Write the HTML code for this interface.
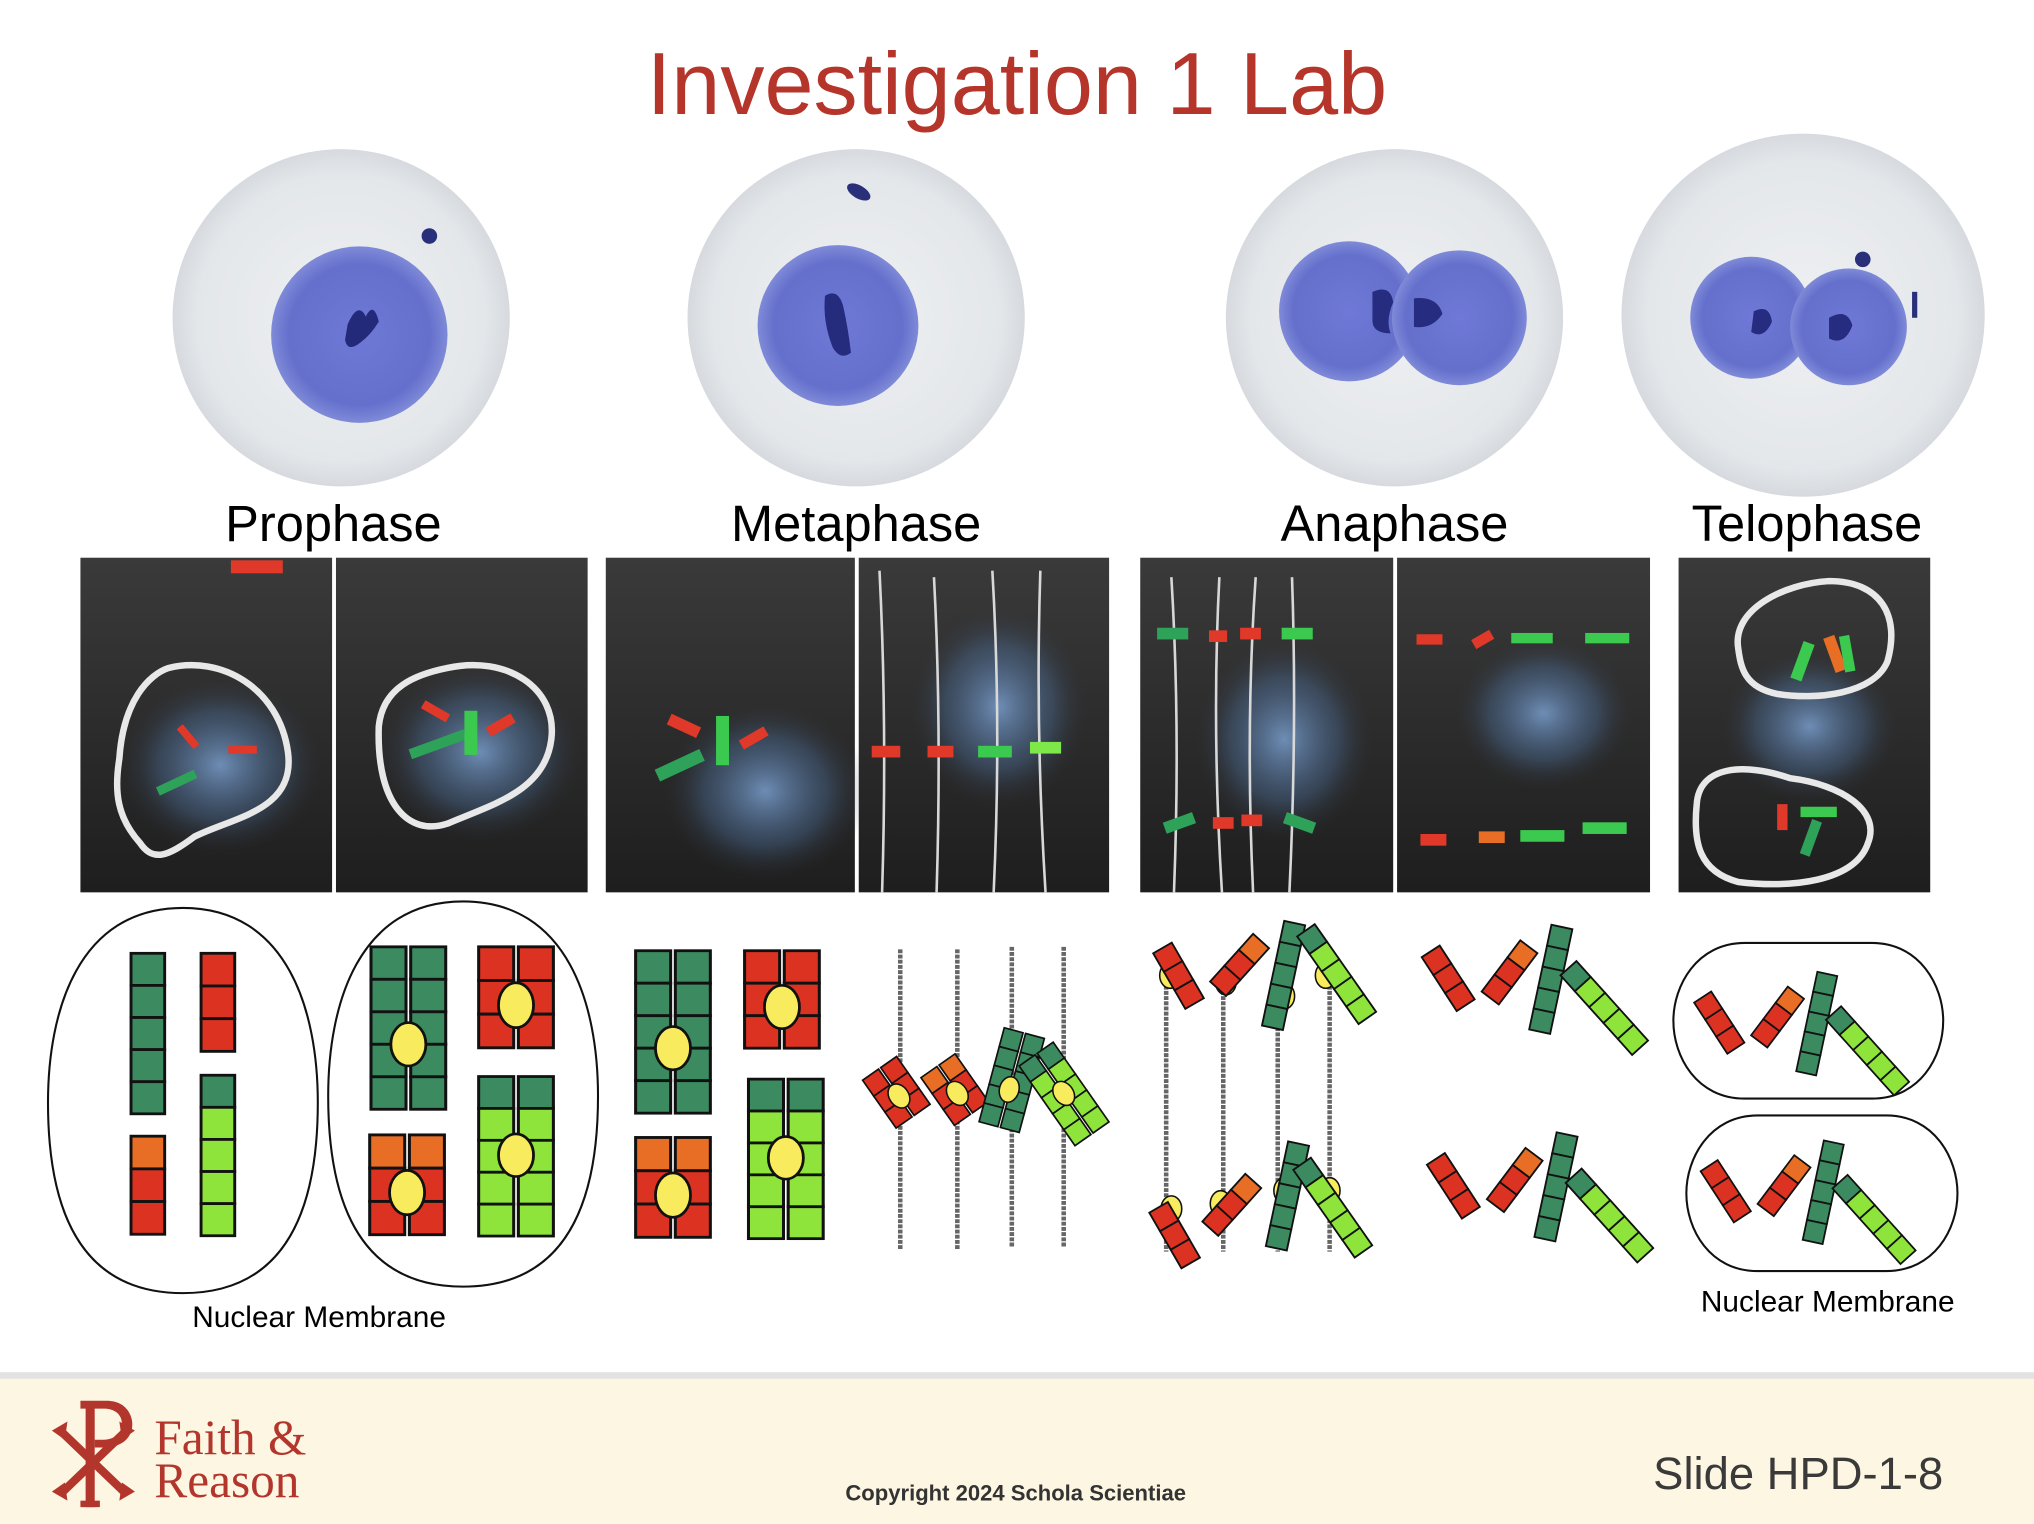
<!DOCTYPE html>
<html><head><meta charset="utf-8"><style>
html,body{margin:0;padding:0;background:#fff;}
svg{display:block;}
</style></head><body>
<svg width="2034" height="1524" viewBox="0 0 1568 1175" preserveAspectRatio="none" xmlns="http://www.w3.org/2000/svg" font-family="Liberation Sans, sans-serif">
<defs>
  <radialGradient id="cell" cx="50%" cy="50%" r="50%">
    <stop offset="0" stop-color="#eef0f2"/><stop offset="0.85" stop-color="#e4e7ea"/><stop offset="1" stop-color="#d6dade"/>
  </radialGradient>
  <radialGradient id="nuc" cx="50%" cy="50%" r="50%">
    <stop offset="0" stop-color="#6f78d6"/><stop offset="0.8" stop-color="#6470cc"/><stop offset="1" stop-color="#7f8ad8"/>
  </radialGradient>
  <radialGradient id="glow" cx="50%" cy="50%" r="50%">
    <stop offset="0" stop-color="#7fa6d8" stop-opacity="0.8"/><stop offset="0.6" stop-color="#4d6f9a" stop-opacity="0.4"/><stop offset="1" stop-color="#2a2a2c" stop-opacity="0"/>
  </radialGradient>
  <radialGradient id="lamp" cx="50%" cy="50%" r="50%">
    <stop offset="0" stop-color="#8a8a86" stop-opacity="0.7"/><stop offset="1" stop-color="#2a2a2c" stop-opacity="0"/>
  </radialGradient>
  <linearGradient id="ph" x1="0" y1="0" x2="0" y2="1">
    <stop offset="0" stop-color="#3a3a3a"/><stop offset="1" stop-color="#1e1e1e"/>
  </linearGradient>
  <g id="sR3" stroke="#111" stroke-width="1.3"><rect x="0" y="0" width="15" height="15" fill="#dc3222"/><rect x="0" y="15" width="15" height="15" fill="#dc3222"/><rect x="0" y="30" width="15" height="15" fill="#dc3222"/></g>
  <g id="sO1R2" stroke="#111" stroke-width="1.3"><rect x="0" y="0" width="15" height="15" fill="#e86e26"/><rect x="0" y="15" width="15" height="15" fill="#dc3222"/><rect x="0" y="30" width="15" height="15" fill="#dc3222"/></g>
  <g id="sG5" stroke="#111" stroke-width="1.3"><rect x="0" y="0" width="15" height="15" fill="#3b8a60"/><rect x="0" y="15" width="15" height="15" fill="#3b8a60"/><rect x="0" y="30" width="15" height="15" fill="#3b8a60"/><rect x="0" y="45" width="15" height="15" fill="#3b8a60"/><rect x="0" y="60" width="15" height="15" fill="#3b8a60"/></g>
  <g id="sG1L4" stroke="#111" stroke-width="1.3"><rect x="0" y="0" width="15" height="15" fill="#3b8a60"/><rect x="0" y="15" width="15" height="15" fill="#8ee43a"/><rect x="0" y="30" width="15" height="15" fill="#8ee43a"/><rect x="0" y="45" width="15" height="15" fill="#8ee43a"/><rect x="0" y="60" width="15" height="15" fill="#8ee43a"/></g>
  <g id="dR3"><use href="#sR3"/><use href="#sR3" x="17"/><ellipse cx="16" cy="26" rx="7.5" ry="10" fill="#f8ec5e" stroke="#111" stroke-width="1.2"/></g>
  <g id="dO1R2"><use href="#sO1R2"/><use href="#sO1R2" x="17"/><ellipse cx="16" cy="26" rx="7.5" ry="10" fill="#f8ec5e" stroke="#111" stroke-width="1.2"/></g>
  <g id="dG5"><use href="#sG5"/><use href="#sG5" x="17"/><ellipse cx="16" cy="45" rx="7.5" ry="10" fill="#f8ec5e" stroke="#111" stroke-width="1.2"/></g>
  <g id="dG1L4"><use href="#sG1L4"/><use href="#sG1L4" x="17"/><ellipse cx="16" cy="37" rx="7.5" ry="10" fill="#f8ec5e" stroke="#111" stroke-width="1.2"/></g>
  <g id="cen"><ellipse cx="0" cy="0" rx="8" ry="10" fill="#f8ec5e" stroke="#111" stroke-width="1.2"/></g>
  <g id="set">
    <use href="#sR3" transform="translate(1096,738) rotate(-33) scale(1.1)"/>
    <use href="#sO1R2" transform="translate(1172,725) rotate(37) scale(1.1)"/>
    <use href="#sG5" transform="translate(1196,713) rotate(12) scale(1.1)"/>
    <use href="#sG1L4" transform="translate(1203,752) rotate(-42) scale(1.1)"/>
  </g>
</defs>

<rect width="1568" height="1175" fill="#fff"/>

<text x="784" y="88" font-size="68" fill="#b5352b" text-anchor="middle">Investigation 1 Lab</text>

<circle cx="263" cy="245" r="130" fill="url(#cell)"/>
<circle cx="277" cy="258" r="68" fill="url(#nuc)"/>
<path d="M268 250 q8 -18 14 -6 q6 -12 10 4 q-6 10 -14 16 q-10 8 -12 -2z" fill="#242a7a"/>
<circle cx="331" cy="182" r="6" fill="#2a2f7a"/>

<circle cx="660" cy="245" r="130" fill="url(#cell)"/>
<circle cx="646" cy="251" r="62" fill="url(#nuc)"/>
<path d="M636 228 q10 -6 14 8 q4 18 6 36 q-8 6 -14 -4 q-8 -20 -6 -40z" fill="#252b7d"/>
<ellipse cx="662" cy="148" rx="10" ry="5" fill="#2a2f7a" transform="rotate(30 662 148)"/>

<circle cx="1075" cy="245" r="130" fill="url(#cell)"/>
<circle cx="1040" cy="240" r="54" fill="url(#nuc)"/>
<circle cx="1125" cy="245" r="52" fill="url(#nuc)"/>
<path d="M1058 225 q14 -6 16 8 q-6 14 -2 24 q-14 0 -14 -10z M1090 230 q18 -2 22 12 q-8 12 -22 10z" fill="#262c80"/>

<circle cx="1390" cy="243" r="140" fill="url(#cell)"/>
<circle cx="1350" cy="245" r="47" fill="url(#nuc)"/>
<circle cx="1425" cy="252" r="45" fill="url(#nuc)"/>
<path d="M1352 240 q12 -6 14 8 q-6 14 -16 8z M1410 245 q14 -8 18 6 q-6 16 -18 10z" fill="#262c80"/>
<circle cx="1436" cy="200" r="6" fill="#2a2f7a"/>
<rect x="1474" y="225" width="4" height="20" fill="#2a2f7a"/>

<g font-size="39" fill="#000" text-anchor="middle">
<text x="257" y="417">Prophase</text>
<text x="660" y="417">Metaphase</text>
<text x="1075" y="417">Anaphase</text>
<text x="1393" y="417">Telophase</text>
</g>

<g>
<rect x="62" y="430" width="194" height="258" fill="url(#ph)"/>
<ellipse cx="170" cy="590" rx="80" ry="70" fill="url(#glow)"/>
<path d="M92 585 C95 540 115 520 130 515 C170 505 215 530 222 580 C228 625 180 630 150 645 C130 660 118 665 108 650 C90 630 88 610 92 585Z" fill="none" stroke="#e8e8e8" stroke-width="5"/>
<rect x="135" y="565" width="20" height="6" fill="#e0392a" transform="rotate(50 145 568)"/>
<rect x="120" y="600" width="32" height="7" fill="#2fa25a" transform="rotate(-25 136 603)"/>
<rect x="176" y="575" width="22" height="6" fill="#e0392a"/>
<rect x="178" y="432" width="40" height="10" fill="#e0392a"/>

<rect x="259" y="430" width="194" height="258" fill="url(#ph)"/>
<ellipse cx="370" cy="580" rx="80" ry="70" fill="url(#glow)"/>
<path d="M292 560 C295 530 320 520 345 515 C390 505 430 530 425 570 C420 610 380 620 345 635 C315 645 290 620 292 560Z" fill="none" stroke="#e8e8e8" stroke-width="5"/>
<rect x="315" y="570" width="45" height="8" fill="#2fa25a" transform="rotate(-20 337 574)"/>
<rect x="325" y="545" width="22" height="7" fill="#e0392a" transform="rotate(30 336 548)"/>
<rect x="358" y="548" width="10" height="34" fill="#3cc94f"/>
<rect x="375" y="555" width="22" height="8" fill="#e0392a" transform="rotate(-30 386 559)"/>

<rect x="467" y="430" width="192" height="258" fill="url(#ph)"/>
<ellipse cx="590" cy="610" rx="80" ry="70" fill="url(#glow)"/>
<rect x="505" y="585" width="38" height="10" fill="#2fa25a" transform="rotate(-25 524 590)"/>
<rect x="515" y="555" width="25" height="9" fill="#e0392a" transform="rotate(25 527 559)"/>
<rect x="552" y="552" width="10" height="38" fill="#3cc94f"/>
<rect x="570" y="565" width="22" height="8" fill="#e0392a" transform="rotate(-30 581 569)"/>

<rect x="662" y="430" width="193" height="258" fill="url(#ph)"/>
<ellipse cx="770" cy="545" rx="70" ry="80" fill="url(#glow)"/>
<g stroke="#d8d8d8" stroke-width="2" fill="none">
<path d="M678 440 Q684 560 680 688"/><path d="M720 445 Q726 560 722 688"/><path d="M765 440 Q772 560 766 688"/><path d="M802 440 Q798 560 806 688"/></g>
<rect x="672" y="575" width="22" height="9" fill="#e0392a"/>
<rect x="715" y="575" width="20" height="9" fill="#e0392a"/>
<rect x="754" y="575" width="26" height="9" fill="#3cc94f"/>
<rect x="794" y="572" width="24" height="9" fill="#7ee84a"/>

<rect x="879" y="430" width="195" height="258" fill="url(#ph)"/>
<ellipse cx="990" cy="570" rx="70" ry="80" fill="url(#glow)"/>
<g stroke="#d8d8d8" stroke-width="2" fill="none">
<path d="M903 445 Q910 560 905 688"/><path d="M940 445 Q934 560 942 688"/><path d="M968 445 Q960 560 966 688"/><path d="M996 445 Q1000 560 994 688"/></g>
<rect x="892" y="484" width="24" height="9" fill="#2fa25a"/>
<rect x="932" y="486" width="14" height="9" fill="#e0392a"/>
<rect x="956" y="484" width="16" height="9" fill="#e0392a"/>
<rect x="988" y="484" width="24" height="9" fill="#3cc94f"/>
<rect x="897" y="630" width="24" height="9" fill="#2fa25a" transform="rotate(-20 909 634)"/>
<rect x="935" y="630" width="16" height="9" fill="#e0392a"/>
<rect x="957" y="628" width="16" height="9" fill="#e0392a"/>
<rect x="990" y="630" width="24" height="9" fill="#2fa25a" transform="rotate(20 1002 634)"/>

<rect x="1077" y="430" width="195" height="258" fill="url(#ph)"/>
<ellipse cx="1190" cy="550" rx="70" ry="60" fill="url(#glow)"/>
<rect x="1092" y="489" width="20" height="8" fill="#e0392a"/>
<rect x="1135" y="489" width="16" height="8" fill="#e0392a" transform="rotate(-30 1143 493)"/>
<rect x="1165" y="488" width="32" height="8" fill="#3cc94f"/>
<rect x="1222" y="488" width="34" height="8" fill="#3cc94f"/>
<rect x="1095" y="643" width="20" height="9" fill="#e0392a"/>
<rect x="1140" y="641" width="20" height="9" fill="#e86e26"/>
<rect x="1172" y="640" width="34" height="9" fill="#3cc94f"/>
<rect x="1220" y="634" width="34" height="9" fill="#3cc94f"/>

<rect x="1294" y="430" width="194" height="258" fill="url(#ph)"/>
<ellipse cx="1395" cy="560" rx="70" ry="60" fill="url(#glow)"/>
<path d="M1340 500 C1335 470 1375 450 1410 448 C1450 448 1465 475 1455 510 C1445 535 1400 540 1370 535 C1345 530 1342 515 1340 500Z" fill="none" stroke="#e8e8e8" stroke-width="5"/>
<path d="M1308 620 C1310 590 1345 588 1380 600 C1420 605 1450 625 1440 650 C1430 680 1380 685 1340 680 C1310 672 1305 650 1308 620Z" fill="none" stroke="#e8e8e8" stroke-width="5"/>
<rect x="1385" y="495" width="9" height="30" fill="#3cc94f" transform="rotate(20 1390 510)"/>
<rect x="1410" y="490" width="9" height="28" fill="#e86e26" transform="rotate(-20 1415 504)"/>
<rect x="1420" y="490" width="8" height="28" fill="#3cc94f" transform="rotate(-10 1424 504)"/>
<rect x="1370" y="620" width="8" height="20" fill="#e0392a"/>
<rect x="1388" y="622" width="28" height="8" fill="#3cc94f"/>
<rect x="1392" y="632" width="8" height="28" fill="#2fa25a" transform="rotate(20 1396 646)"/>
</g>

<path d="M141 700 C 60 700 37 780 37 850 C 37 930 60 997 141 997 C 222 997 245 930 245 850 C 245 780 222 700 141 700Z" fill="none" stroke="#111" stroke-width="1.6"/>
<path d="M357 695 C 276 695 253 775 253 845 C 253 925 276 992 357 992 C 438 992 461 925 461 845 C 461 775 438 695 357 695Z" fill="none" stroke="#111" stroke-width="1.6"/>
<use href="#sG5" transform="translate(101,735) scale(1.73,1.65)"/>
<use href="#sR3" transform="translate(155,735) scale(1.73,1.68)"/>
<use href="#sO1R2" transform="translate(101,876) scale(1.73,1.68)"/>
<use href="#sG1L4" transform="translate(155,829) scale(1.73,1.65)"/>
<use href="#dG5" transform="translate(286,730) scale(1.8,1.67)"/>
<use href="#dR3" transform="translate(369,730) scale(1.8,1.73)"/>
<use href="#dO1R2" transform="translate(285,875) scale(1.8,1.71)"/>
<use href="#dG1L4" transform="translate(369,830) scale(1.8,1.64)"/>
<text x="246" y="1023" font-size="23" text-anchor="middle">Nuclear Membrane</text>

<use href="#dG5" transform="translate(490,733) scale(1.8,1.67)"/>
<use href="#dR3" transform="translate(574,733) scale(1.8,1.67)"/>
<use href="#dO1R2" transform="translate(490,877) scale(1.8,1.71)"/>
<use href="#dG1L4" transform="translate(577,832) scale(1.8,1.64)"/>
<g stroke="#666" stroke-width="3.5" stroke-dasharray="3 1">
<line x1="694" y1="732" x2="694" y2="964"/><line x1="738" y1="732" x2="738" y2="964"/><line x1="780" y1="730" x2="780" y2="962"/><line x1="820" y1="730" x2="820" y2="962"/></g>
<use href="#dR3" transform="translate(693,845) rotate(-35) translate(-16,-26)"/>
<use href="#dO1R2" transform="translate(738,843) rotate(-35) translate(-16,-26)"/>
<use href="#dG5" transform="translate(778,840) rotate(15) translate(-16,-45)"/>
<use href="#dG1L4" transform="translate(820,843) rotate(-35) translate(-16,-37)"/>

<g stroke="#666" stroke-width="3.5" stroke-dasharray="3 1">
<line x1="899" y1="760" x2="899" y2="965"/><line x1="943" y1="760" x2="943" y2="965"/><line x1="985" y1="760" x2="985" y2="965"/><line x1="1025" y1="760" x2="1025" y2="965"/></g>
<use href="#cen" transform="translate(902,752)"/>
<use href="#cen" transform="translate(945,757)"/>
<use href="#cen" transform="translate(990,768)"/>
<use href="#cen" transform="translate(1022,752)"/>
<use href="#sR3" transform="translate(889,735) rotate(-30) scale(1.1)"/>
<use href="#sO1R2" transform="translate(966,720) rotate(42) scale(1.1)"/>
<use href="#sG5" transform="translate(990,710) rotate(12) scale(1.1)"/>
<use href="#sG1L4" transform="translate(1000,722) rotate(-35) scale(1.1)"/>
<use href="#cen" transform="translate(903,932)"/>
<use href="#cen" transform="translate(941,928)"/>
<use href="#cen" transform="translate(990,918)"/>
<use href="#cen" transform="translate(1025,918)"/>
<use href="#sR3" transform="translate(886,935) rotate(-30) scale(1.1)"/>
<use href="#sO1R2" transform="translate(960,905) rotate(42) scale(1.1)"/>
<use href="#sG5" transform="translate(993,880) rotate(12) scale(1.1)"/>
<use href="#sG1L4" transform="translate(997,902) rotate(-35) scale(1.1)"/>

<use href="#set"/>
<use href="#set" transform="translate(4,160)"/>

<path d="M1345 727 L1443 727 C1480 727 1498 760 1498 787 C1498 815 1480 847 1443 847 L1345 847 C1308 847 1290 815 1290 787 C1290 760 1308 727 1345 727Z" fill="none" stroke="#111" stroke-width="1.6"/>
<path d="M1355 860 L1454 860 C1491 860 1509 893 1509 920 C1509 948 1491 980 1454 980 L1355 980 C1318 980 1300 948 1300 920 C1300 893 1318 860 1355 860Z" fill="none" stroke="#111" stroke-width="1.6"/>
<use href="#set" transform="translate(1306,773) scale(0.95) translate(-1096,-738)"/>
<use href="#set" transform="translate(1311,903) scale(0.95) translate(-1096,-738)"/>
<text x="1409" y="1011" font-size="23" text-anchor="middle">Nuclear Membrane</text>

<rect x="0" y="1058" width="1568" height="6" fill="#e2e2e2"/>
<rect x="0" y="1063" width="1568" height="112" fill="#fdf6e2"/>
<g fill="#b3362c">
<rect x="66" y="1082" width="7" height="80"/>
<path d="M62 1080 L82 1080 C98 1080 102 1092 102 1098 C102 1110 92 1116 80 1116 L73 1116 L73 1110 L80 1110 C88 1110 94 1105 94 1098 C94 1090 88 1086 80 1086 L62 1086Z"/>
<path d="M48 1100 L98 1148 L94 1153 L44 1105Z"/>
<path d="M96 1100 L46 1148 L50 1153 L100 1105Z"/>
<path d="M40 1103 L52 1096 L50 1110Z"/><path d="M104 1103 L92 1096 L94 1110Z"/>
<path d="M40 1150 L52 1157 L50 1143Z"/><path d="M104 1150 L92 1157 L94 1143Z"/>
<rect x="62" y="1157" width="15" height="5"/>
</g>
<g font-family="Liberation Serif, serif" font-size="38" fill="#b3362c">
<text x="119" y="1121">Faith &amp;</text>
<text x="119" y="1154">Reason</text>
</g>
<text x="783" y="1157" font-size="17" font-weight="bold" fill="#333" text-anchor="middle">Copyright 2024 Schola Scientiae</text>
<text x="1498" y="1148" font-size="35" fill="#3a3a3a" text-anchor="end">Slide HPD-1-8</text>
</svg>
</body></html>
